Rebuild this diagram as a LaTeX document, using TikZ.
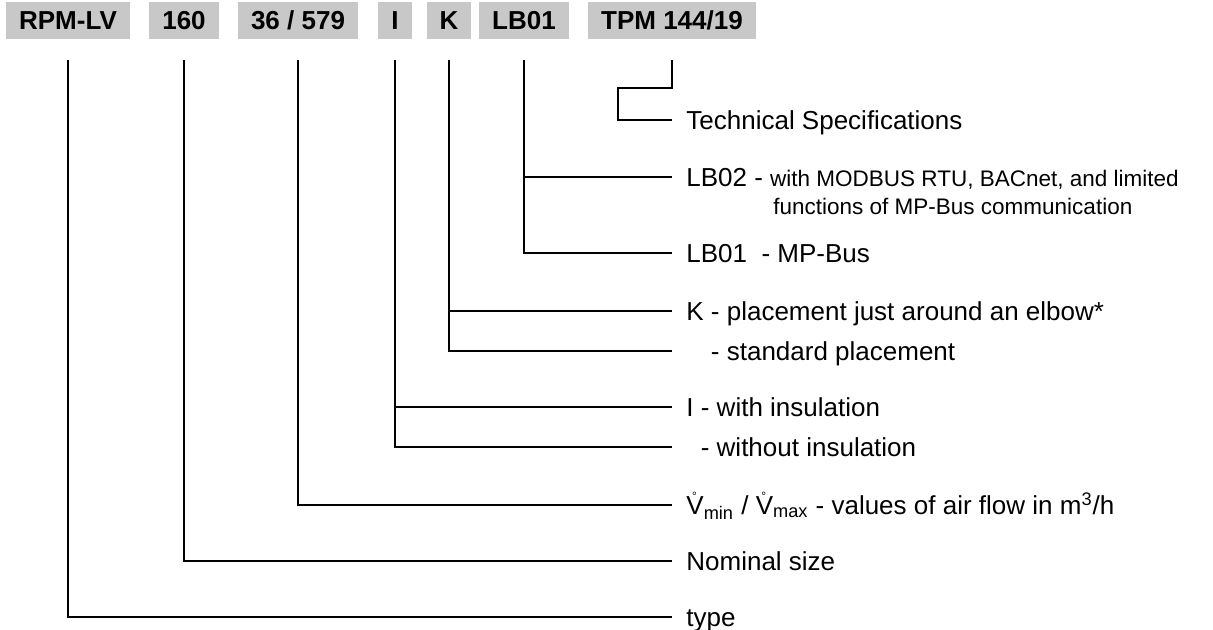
\documentclass[tikz,border=0pt]{standalone}
\usepackage{fontspec}
\setmainfont{Liberation Sans}
\usetikzlibrary{positioning}
\definecolor{codegray}{RGB}{200,200,200}
\newcommand{\smalltxt}{\fontsize{11.25}{13}\selectfont}
\newcommand{\vring}{\makebox[0pt][l]{\hspace{0.22em}\raisebox{7pt}{\fontsize{6}{6}\selectfont\textdegree}}V}
\tikzset{
  codebox/.style={
    fill=codegray, font=\fontsize{13}{15}\selectfont\bfseries,
    minimum height=18.5pt, inner xsep=6.5pt, inner ysep=0pt,
    text height=9.4pt, text depth=0pt
  },
  desc/.style={
    anchor=west, font=\fontsize{13}{15}\selectfont,
    inner xsep=7pt, inner ysep=0pt, text height=9.3pt, text depth=0pt
  },
  descsmall/.style={
    anchor=west, font=\smalltxt,
    inner sep=0pt, text height=8pt, text depth=0pt
  },
  wire/.style={line width=1pt},
  fromcode/.style={wire, shorten <=10.5pt}
}

\begin{document}
\begin{tikzpicture}[x=0.5pt, y=-0.5pt]
  \useasboundingbox (0,0) rectangle (1213,630);

  % code blocks
  \node[codebox] (rpm)  at (68,20.5)  {RPM-LV};
  \node[codebox] (size) at (184,20.5) {160};
  \node[codebox] (flow) at (298,20.5) {36 / 579};
  \node[codebox] (ins)  at (395,20.5) {I};
  \node[codebox] (pos)  at (449,20.5) {K};
  \node[codebox] (comm) at (524,20.5) {LB01};
  \node[codebox] (tpm)  at (672,20.5) {TPM 144/19};

  % descriptions
  \node[desc] (tech)   at (672,120) {Technical Specifications};
  \node[desc] (lbtwo)  at (672,177) {LB02 - {\smalltxt with MODBUS RTU, BACnet, and limited}};
  \node[descsmall] (lbtwob) at (773,207) {functions of MP-Bus communication};
  \node[desc] (lbone)  at (672,253) {LB01\ \ - MP-Bus};
  \node[desc] (posk)   at (672,311) {K - placement just around an elbow*};
  \node[desc] (posstd) at (672,351) {\phantom{K} - standard placement};
  \node[desc] (insyes) at (672,407) {I - with insulation};
  \node[desc] (insno)  at (672,447) {\phantom{I} - without insulation};
  \node[desc] (vol)    at (672,505) {\vring\textsubscript{min} / \vring\textsubscript{max} - values of air flow in m\textsuperscript{3}/h};
  \node[desc] (nominal) at (672,561) {Nominal size};
  \node[desc] (type)   at (672,617) {type};

  % connectors
  \draw[fromcode] (rpm.south) |- (type.west);
  \draw[fromcode] (size.south) |- (nominal.west);
  \draw[fromcode] (flow.south) |- (vol.west);
  \draw[fromcode] (ins.south) |- (insno.west);
  \draw[wire] (ins.south |- insyes.west) -- (insyes.west);
  \draw[fromcode] (pos.south) |- (posstd.west);
  \draw[wire] (pos.south |- posk.west) -- (posk.west);
  \draw[fromcode] (comm.south) |- (lbone.west);
  \draw[wire] (comm.south |- lbtwo.west) -- (lbtwo.west);
  \draw[fromcode] (tpm.south) -- ++(0,49) -- ++(-54,0) |- (tech.west);
\end{tikzpicture}
\end{document}
